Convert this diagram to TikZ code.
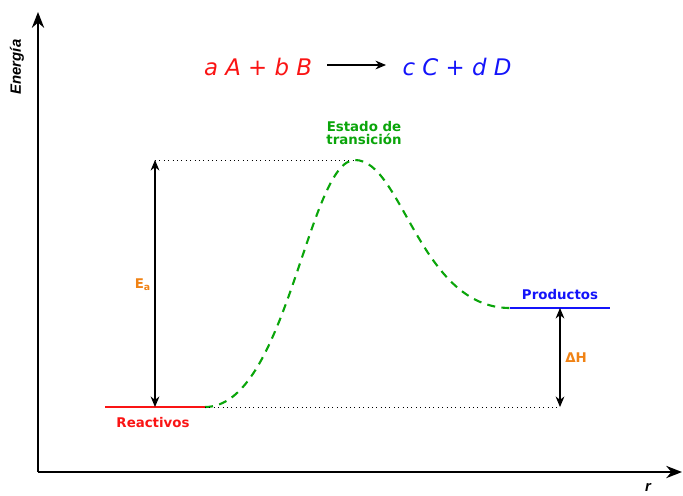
\documentclass[tikz,border=0pt]{standalone}
\usepackage{fontspec}
\setmainfont{DejaVu Sans}
\newfontfamily\axisfont{Liberation Sans}
\usetikzlibrary{arrows.meta,positioning}
\definecolor{reacred}{RGB}{250,20,20}
\definecolor{prodblue}{RGB}{20,20,250}
\definecolor{tsgreen}{RGB}{10,165,10}
\definecolor{lblorange}{RGB}{240,130,20}

\begin{document}
\begin{tikzpicture}[
  x=0.02cm, y=-0.02cm,
  every node/.style={font=\bfseries\fontsize{7.6}{9}\selectfont, align=center},
  axis/.style={line width=1pt, -{Stealth[length=9pt,width=7pt]}},
  level/.style={line width=1.1pt},
  guide/.style={dotted, line width=0.5pt},
  span/.style={line width=0.6pt, {Stealth[length=6pt,width=5pt]}-{Stealth[length=6pt,width=5pt]}},
  path/.style={tsgreen, dashed, dash pattern=on 4.6pt off 3.6pt, line width=1.2pt},
  eqn/.style={font=\itshape\fontsize{13}{15}\selectfont}
]
\useasboundingbox (0,0) rectangle (683,495);

% ---------- Axes ----------
\coordinate (origin) at (38,472);
\coordinate (ytop) at (38,12);
\coordinate (xend) at (682,472);
\draw[axis] (origin) -- (ytop);
\draw[axis] (origin) -- (xend);
\node[rotate=90, font=\axisfont\bfseries\itshape\fontsize{8.5}{9}\selectfont] (energy) at (17,67) {Energía};
\node[font=\axisfont\bfseries\itshape\fontsize{8.5}{9}\selectfont] (rcoord) at (648,487) {r};

% ---------- Reaction ----------
\node[eqn, text=reacred] (reac) at (258,67) {a A + b B};
\node[eqn, text=prodblue] (prod) at (457,67) {c C + d D};
\coordinate (eqa) at (327,65);
\coordinate (eqb) at (386,65);
\draw[line width=0.6pt, -{Stealth[length=6pt,width=5pt]}] (eqa) -- (eqb);

% ---------- Energy levels ----------
\coordinate (rstart) at (105,407);
\coordinate (rend) at (205,407);
\coordinate (peak) at (355,160);
\coordinate (pstart) at (510,308);
\coordinate (pend) at (610,308);
\draw[level, reacred] (rstart) -- (rend);
\draw[level, prodblue] (pstart) -- (pend);
\draw[path] (rend) .. controls (287,407) and (308,160) .. (peak)
  .. controls (402,160) and (420,308) .. (pstart);

\node[text=reacred] (reaclbl) at (153,423) {Reactivos};
\node[text=prodblue] (prodlbl) at (560,295) {Productos};
\node[text=tsgreen] (tslbl) at (364,133) {Estado de\\[-2pt]transición};

% ---------- Ea and dH ----------
\coordinate (eatop) at (155,160);
\coordinate (eabot) at (155,407);
\coordinate (dhtop) at (560,308);
\coordinate (dhbot) at (560,407);
\draw[guide] (eatop) -- (peak);
\draw[guide] (rend) -- (dhbot);
\draw[span] (eatop) -- (eabot);
\draw[span] (dhtop) -- (dhbot);
\node[text=lblorange] (ealbl) at (143,285) {E\textsubscript{a}};
\node[text=lblorange] (dhlbl) at (576,358) {ΔH};
\end{tikzpicture}
\end{document}
